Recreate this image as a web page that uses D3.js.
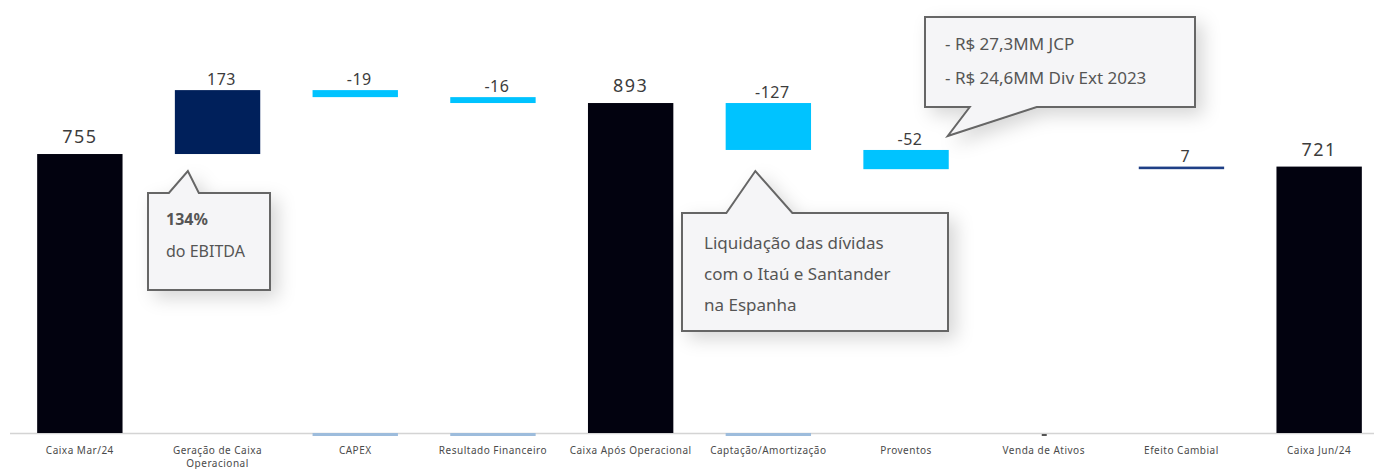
<!DOCTYPE html>
<html>
<head>
<meta charset="utf-8">
<script src="https://cdn.jsdelivr.net/npm/d3@7"></script>
<style>
  body { margin: 0; background: #fff; }
  svg { display: block; font-family: "Noto Sans", sans-serif; }
</style>
</head>
<body>
<script>
// categories and values of the cash waterfall (R$ MM)
const categories = ["Caixa Mar/24", "Geração de Caixa Operacional", "CAPEX", "Resultado Financeiro",
  "Caixa Após Operacional", "Captação/Amortização", "Proventos", "Venda de Ativos", "Efeito Cambial", "Caixa Jun/24"]
const values = [755, 173, -19, -16, 893, -127, -52, 0, 7, 721]
const isTotal = [true, false, false, false, true, false, false, false, false, true]
const labels = ["755", "173", "-19", "-16", "893", "-127", "-52", "", "7", "721"]
// categories that show a faint stub at the baseline in the original
const baseStubs = ["CAPEX", "Resultado Financeiro", "Captação/Amortização"]

const notes = [
  { cat: "Geração de Caixa Operacional", lines: [["134%", true], ["do EBITDA", false]] },
  { cat: "Captação/Amortização", lines: [["Liquidação das dívidas", false], ["com o Itaú e Santander", false], ["na Espanha", false]] },
  { cat: "Proventos", lines: [["- R$ 27,3MM JCP", false], ["- R$ 24,6MM Div Ext 2023", false]] }
]

const width = 1374, height = 469
const baseY = 433

const svg = d3.select("body").append("svg")
  .attr("width", width)
  .attr("height", height)

const defs = svg.append("defs")
const shadow = defs.append("filter").attr("id", "shadow")
  .attr("x", "-20%").attr("y", "-20%").attr("width", "150%").attr("height", "160%")
shadow.append("feDropShadow")
  .attr("dx", 7).attr("dy", 7).attr("stdDeviation", 9)
  .attr("flood-color", "#000").attr("flood-opacity", 0.16)

const xScale = d3.scaleBand()
  .domain(categories)
  .range([11, 1388])
  .paddingInner(0.38)
  .paddingOuter(0.19)

const yScale = d3.scaleLinear()
  .domain([0, 1000])
  .range([baseY, baseY - 369.5])

// build waterfall rows
let running = 0
const rows = categories.map((c, i) => {
  let lo, hi
  if (isTotal[i]) {
    lo = 0; hi = values[i]; running = values[i]
  } else {
    const next = running + values[i]
    lo = Math.min(running, next); hi = Math.max(running, next)
    running = next
  }
  let color = "#02020f"
  if (!isTotal[i]) color = values[i] >= 0 ? "#00205b" : "#00c3ff"
  return { cat: c, value: values[i], lo: lo, hi: hi, total: isTotal[i], label: labels[i], color: color }
})

// axis line
svg.append("line")
  .attr("x1", 10).attr("x2", width)
  .attr("y1", baseY + 0.5).attr("y2", baseY + 0.5)
  .attr("stroke", "#d4d4d4").attr("stroke-width", 1.5)

// faint stubs at the baseline
svg.selectAll(".stub").data(baseStubs)
  .enter().append("rect")
    .attr("x", d => xScale(d))
    .attr("y", baseY)
    .attr("width", xScale.bandwidth())
    .attr("height", 3)
    .attr("fill", "#9dbcdc")

// bars
svg.selectAll(".bar").data(rows.filter(d => d.value !== 0))
  .enter().append("rect")
    .attr("x", d => xScale(d.cat))
    .attr("y", d => yScale(d.hi))
    .attr("width", xScale.bandwidth())
    .attr("height", d => Math.max(2.5, yScale(d.lo) - yScale(d.hi)))
    .attr("fill", d => d.value === 7 ? "#1f3f86" : d.color)

// tiny mark for Venda de Ativos
svg.append("rect")
  .attr("x", xScale("Venda de Ativos") + xScale.bandwidth() / 2 - 2)
  .attr("y", baseY + 1).attr("width", 5).attr("height", 2)
  .attr("fill", "#555")

// value labels
svg.selectAll(".val").data(rows.filter(d => d.label !== ""))
  .enter().append("text")
    .attr("x", d => xScale(d.cat) + xScale.bandwidth() / 2 + (d.total ? 0 : 4))
    .attr("y", d => yScale(d.hi) - (d.total ? 11 : 5))
    .attr("text-anchor", "middle")
    .style("font-size", d => d.total ? "18px" : "16px")
    .style("letter-spacing", d => d.total ? "1.5px" : "0.5px")
    .attr("fill", "#3c3c3c")
    .text(d => d.label)

// category labels (wrap long ones)
categories.forEach(c => {
  const cx = xScale(c) + xScale.bandwidth() / 2
  const lines = c === "Geração de Caixa Operacional" ? ["Geração de Caixa", "Operacional"] : [c]
  const t = svg.append("text")
    .attr("x", cx).attr("y", 454)
    .attr("text-anchor", "middle")
    .style("font-size", "10px")
    .style("letter-spacing", "0.5px")
    .attr("fill", "#4a4a4a")
  lines.forEach((l, i) => {
    t.append("tspan").attr("x", cx).attr("dy", i === 0 ? 0 : 13).text(l)
  })
})

// callout boxes
function callout(box, tip, note, fontSize, lineGap) {
  const [x0, y0, x1, y1] = box
  let pts
  if (tip.edge === "top") {
    pts = [[x0, y0], [tip.a, y0], [tip.px, tip.py], [tip.b, y0], [x1, y0], [x1, y1], [x0, y1]]
  } else {
    pts = [[x0, y0], [x1, y0], [x1, y1], [tip.b, y1], [tip.px, tip.py], [tip.a, y1], [x0, y1]]
  }
  svg.append("path")
    .attr("d", d3.line()(pts) + "Z")
    .attr("fill", "#f5f5f7")
    .attr("stroke", "#666")
    .attr("stroke-width", 2)
    .attr("stroke-linejoin", "miter")
    .attr("filter", "url(#shadow)")
  note.lines.forEach((l, i) => {
    svg.append("text")
      .attr("x", tip.tx)
      .attr("y", tip.ty + i * lineGap)
      .style("font-size", fontSize + "px")
      .style("font-weight", l[1] ? "bold" : "normal")
      .attr("fill", "#555")
      .text(l[0])
  })
}

const gx = xScale("Geração de Caixa Operacional")
callout([148, 193, 270, 290], { edge: "top", a: gx - 6, px: gx + 13, py: 171, b: gx + 24, tx: 166, ty: 225 },
  notes[0], 16, 32)

const cx2 = xScale("Captação/Amortização") + xScale.bandwidth() / 2
callout([682, 213, 948, 331], { edge: "top", a: cx2 - 42, px: cx2 - 13, py: 171, b: cx2 + 24, tx: 704, ty: 249 },
  notes[1], 17, 31)

const px3 = xScale("Proventos") + xScale.bandwidth()
callout([925, 17, 1195, 107], { edge: "bottom", a: px3 + 21, px: px3 - 1, py: 136, b: px3 + 88, tx: 945, ty: 50 },
  notes[2], 17, 34)
</script>
</body>
</html>
